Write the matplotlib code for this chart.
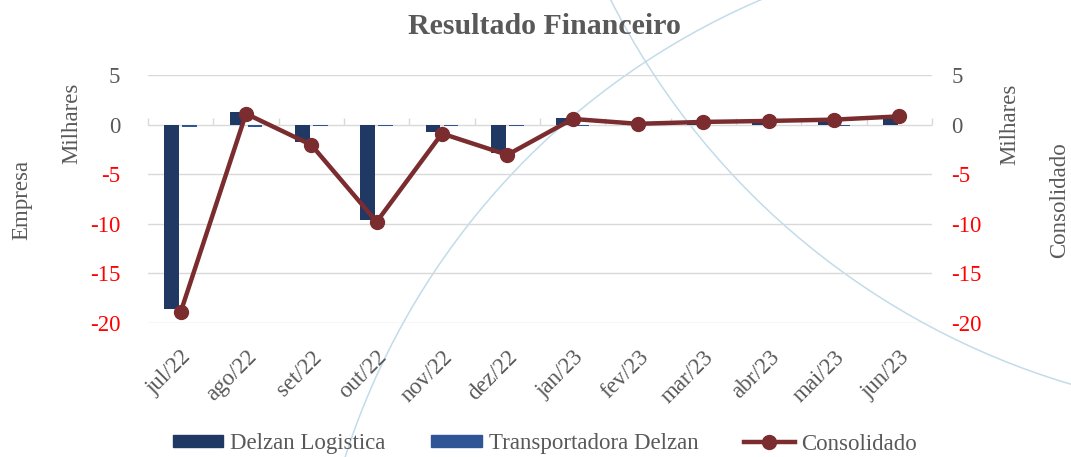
import numpy as np
import matplotlib
matplotlib.use("Agg")
import matplotlib.pyplot as plt
from matplotlib.patches import Circle
from matplotlib.lines import Line2D
from matplotlib.patches import Patch
import matplotlib.transforms as mtransforms

# ---- data ----
categories = ["jul/22", "ago/22", "set/22", "out/22", "nov/22", "dez/22",
              "jan/23", "fev/23", "mar/23", "abr/23", "mai/23", "jun/23"]
delzan_logistica = [-18.6, 1.3, -1.8, -9.6, -0.75, -2.9, 0.65, 0.15, 0.35, 0.45, 0.6, 0.9]
transportadora = [-0.2, -0.2, -0.15, -0.15, -0.15, -0.12, -0.1, -0.06, -0.08, -0.08, -0.1, -0.07]
consolidado = [-18.9, 1.1, -2.05, -9.8, -0.9, -3.05, 0.57, 0.08, 0.27, 0.37, 0.5, 0.83]
yticks = [5, 0, -5, -10, -15, -20]
ytick_labels = ["5", "0", "-5", "-10", "-15", "-20"]

# ---- style ----
FONT = ["Liberation Serif", "DejaVu Serif"]
plt.rcParams["font.family"] = FONT
GRAY = "#595959"
RED = "#FF0000"
GRID = "#D9D9D9"
C_DELZAN = "#1F3864"
C_TRANSP = "#2F5597"
C_CONS = "#7B2C2F"
FS = 16.5

W, H = 1071, 457
fig = plt.figure(figsize=(W / 100, H / 100), dpi=100)

# decorative background arcs (pixel coordinates, y downward)
pix = mtransforms.Affine2D().scale(1 / W, -1 / H).translate(0, 1) + fig.transFigure
for cx, cy, r in [(1054.6, 684.4, 745), (1285.7, -340.6, 756)]:
    c = Circle((cx, cy), r, fill=False, edgecolor="#BCD8E8", linewidth=1.1,
               transform=pix, zorder=-5, alpha=0.9)
    fig.add_artist(c)

ax = fig.add_axes([148 / W, 1 - 323 / H, (932 - 148) / W, (323 - 75) / H])
ax.set_facecolor("none")
x = np.arange(len(categories))
bw = 0.225
off = 0.14
ax.bar(x - off, delzan_logistica, width=bw, color=C_DELZAN, zorder=3)
ax.bar(x + off, transportadora, width=bw, color=C_TRANSP, zorder=3)

ax.set_xlim(-0.5, len(categories) - 0.5)
ylim = (min(yticks), max(yticks))
ax.set_ylim(*ylim)
ax.set_yticks(yticks)
ax.set_yticklabels(ytick_labels)
for v, lab in zip(yticks, ax.get_yticklabels()):
    lab.set_color(RED if v < 0 else GRAY)
    lab.set_fontsize(FS)
ax.tick_params(axis="y", length=0, pad=20)
ax.grid(axis="y", color=GRID, linewidth=1.0, zorder=0)
ax.set_axisbelow(True)
for s in ax.spines.values():
    s.set_visible(False)

ax.set_xticks(x)
ax.set_xticklabels(categories, rotation=45, ha="right", rotation_mode="anchor",
                   fontsize=FS, color=GRAY)
ax.tick_params(axis="x", length=0, pad=17)

# category axis drawn at zero
zero_loc = (0 - ylim[0]) / (ylim[1] - ylim[0])
sec = ax.secondary_xaxis(zero_loc)
sec.set_xticks(np.arange(len(categories) + 1) - 0.5)
sec.set_xticklabels([])
sec.tick_params(axis="x", direction="out", length=5, width=1.0, color=GRID)
sec.spines["bottom"].set_color(GRID)
sec.spines["bottom"].set_linewidth(1.2)
for k in ["top", "left", "right"]:
    sec.spines[k].set_visible(False)

# consolidated line on secondary axis
ax2 = ax.twinx()
ax2.set_facecolor("none")
ax2.plot(x, consolidado, color=C_CONS, linewidth=3.2, marker="o",
         markersize=10, zorder=5)
ax2.set_ylim(*ylim)
ax2.set_yticks(yticks)
ax2.set_yticklabels(ytick_labels)
for v, lab in zip(yticks, ax2.get_yticklabels()):
    lab.set_color(RED if v < 0 else GRAY)
    lab.set_fontsize(FS)
ax2.tick_params(axis="y", length=0, pad=14)
for s in ax2.spines.values():
    s.set_visible(False)

# titles and axis labels
fig.text(544 / W, 1 - 26 / H, "Resultado Financeiro", ha="center", va="center",
         fontsize=21.5, fontweight="bold", color=GRAY)
fig.text(22 / W, 1 - 200 / H, "Empresa", rotation=90, ha="center", va="center",
         fontsize=FS, color=GRAY)
fig.text(72 / W, 1 - 123 / H, "Milhares", rotation=90, ha="center", va="center",
         fontsize=FS, color=GRAY)
fig.text(1010 / W, 1 - 124 / H, "Milhares", rotation=90, ha="center", va="center",
         fontsize=FS, color=GRAY)
fig.text(1060 / W, 1 - 200 / H, "Consolidado", rotation=90, ha="center", va="center",
         fontsize=FS, color=GRAY)

handles = [Patch(color=C_DELZAN), Patch(color=C_TRANSP),
           Line2D([], [], color=C_CONS, linewidth=3.2, marker="o", markersize=10)]
leg = fig.legend(handles, ["Delzan Logistica", "Transportadora Delzan", "Consolidado"],
                 loc="center", bbox_to_anchor=(545 / W, 1 - 444 / H), ncol=3,
                 frameon=False, fontsize=FS, handlelength=2.2, handleheight=0.45,
                 handletextpad=0.3, columnspacing=2.0)
for t in leg.get_texts():
    t.set_color(GRAY)

fig.savefig("out.png", dpi=100)
